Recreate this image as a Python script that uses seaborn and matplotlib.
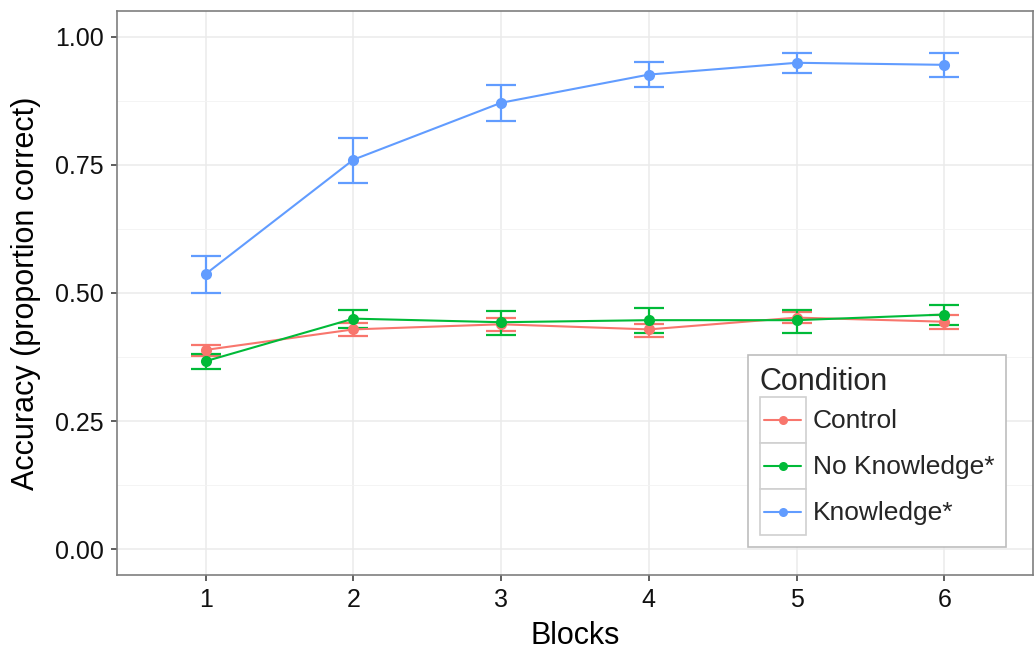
import numpy as np
import pandas as pd
import matplotlib
matplotlib.use("Agg")
import matplotlib.pyplot as plt
import seaborn as sns
from matplotlib.legend_handler import HandlerBase
from matplotlib.patches import Rectangle
from matplotlib.lines import Line2D

# ---------------- data ----------------
blocks = [1, 2, 3, 4, 5, 6]
conditions = ["Control", "No Knowledge*", "Knowledge*"]
colors = ["#F8766D", "#00BA38", "#619CFF"]

control_mean = [0.389, 0.429, 0.439, 0.429, 0.452, 0.444]
control_lo = [0.377, 0.417, 0.426, 0.414, 0.442, 0.430]
control_hi = [0.399, 0.442, 0.452, 0.439, 0.462, 0.458]

noknow_mean = [0.367, 0.450, 0.443, 0.447, 0.447, 0.458]
noknow_lo = [0.352, 0.432, 0.419, 0.422, 0.422, 0.437]
noknow_hi = [0.381, 0.467, 0.465, 0.471, 0.467, 0.477]

know_mean = [0.537, 0.760, 0.871, 0.926, 0.949, 0.945]
know_lo = [0.500, 0.715, 0.836, 0.901, 0.930, 0.921]
know_hi = [0.573, 0.803, 0.906, 0.951, 0.969, 0.969]

y_ticks = [0.00, 0.25, 0.50, 0.75, 1.00]
y_ticklabels = ["0.00", "0.25", "0.50", "0.75", "1.00"]

means = [control_mean, noknow_mean, know_mean]
los = [control_lo, noknow_lo, know_lo]
his = [control_hi, noknow_hi, know_hi]

rows = []
for cond, m, lo, hi in zip(conditions, means, los, his):
    for b, mv, lv, hv in zip(blocks, m, lo, hi):
        rows.append({"Block": b, "Accuracy": mv, "lo": lv, "hi": hv, "Condition": cond})
df = pd.DataFrame(rows)

# ---------------- style ----------------
sns.set_theme(style="white")
plt.rcParams["font.family"] = ["Liberation Sans", "DejaVu Sans"]

fig = plt.figure(figsize=(10.36, 6.51), dpi=100)
ax = fig.add_axes([117 / 1036, 1 - 575 / 651, (1033 - 117) / 1036, (575 - 11) / 651])

palette = dict(zip(conditions, colors))

# error bars
for cond in conditions:
    d = df[df["Condition"] == cond]
    ax.errorbar(d["Block"], d["Accuracy"],
                yerr=[d["Accuracy"] - d["lo"], d["hi"] - d["Accuracy"]],
                fmt="none", ecolor=palette[cond], elinewidth=1.6,
                capsize=10.5, capthick=1.6, zorder=3)

sns.lineplot(data=df, x="Block", y="Accuracy", hue="Condition",
             hue_order=conditions, palette=palette, marker="o",
             markersize=8, markeredgewidth=0, linewidth=1.5,
             legend=False, ax=ax, zorder=4)

ax.set_xlim(0.4, 6.6)
ax.set_ylim(-0.05, 1.05)
ax.set_xticks(blocks)
ax.set_xticklabels([str(b) for b in blocks])
ax.set_yticks(y_ticks)
ax.set_yticklabels(y_ticklabels)
ax.set_yticks([0.125, 0.375, 0.625, 0.875], minor=True)

ax.grid(True, which="major", color="#EBEBEB", linewidth=1.1, zorder=0)
ax.grid(True, which="minor", axis="y", color="#F3F3F3", linewidth=0.6, zorder=0)
ax.set_axisbelow(True)

for s in ax.spines.values():
    s.set_visible(True)
    s.set_color("#7F7F7F")
    s.set_linewidth(1.2)

ax.tick_params(axis="both", which="major", length=4.5, width=1.1,
               color="#333333", labelsize=18, labelcolor="#111111", pad=5,
               direction="out", bottom=True, left=True)
ax.tick_params(axis="both", which="minor", length=0)

ax.set_xlabel("Blocks", fontsize=22, labelpad=6, color="black")
ax.set_ylabel("Accuracy (proportion correct)", fontsize=22, labelpad=10, color="black")


# ---------------- legend with key boxes ----------------
class KeyHandler(HandlerBase):
    def create_artists(self, legend, orig_handle, xdescent, ydescent,
                       width, height, fontsize, trans):
        rect = Rectangle((-xdescent, -ydescent), width, height,
                         facecolor="white", edgecolor="#D0D0D0", lw=1.2,
                         transform=trans)
        pad = 0.1 * width
        yc = -ydescent + height / 2
        line = Line2D([-xdescent + pad, -xdescent + width - pad], [yc, yc],
                      color=orig_handle.get_color(), lw=1.5, transform=trans)
        dot = Line2D([-xdescent + width / 2], [yc], marker="o", markersize=6.5,
                     markeredgewidth=0, color=orig_handle.get_color(),
                     transform=trans)
        return [rect, line, dot]


handles = [Line2D([], [], color=c) for c in colors]
leg = ax.legend(handles, conditions, title="Condition",
                handler_map={Line2D: KeyHandler()},
                loc="upper left", bbox_to_anchor=(748 / 1036, 1 - 355 / 651),
                bbox_transform=fig.transFigure,
                fontsize=19, title_fontsize=22, frameon=True, fancybox=False,
                edgecolor="#BDBDBD", framealpha=1, borderpad=0.45,
                handlelength=1.75, handleheight=2.3, labelspacing=0,
                handletextpad=0.25, borderaxespad=0)
leg._legend_box.align = "left"
leg.get_frame().set_linewidth(1.2)

fig.savefig("out.png", dpi=100)
